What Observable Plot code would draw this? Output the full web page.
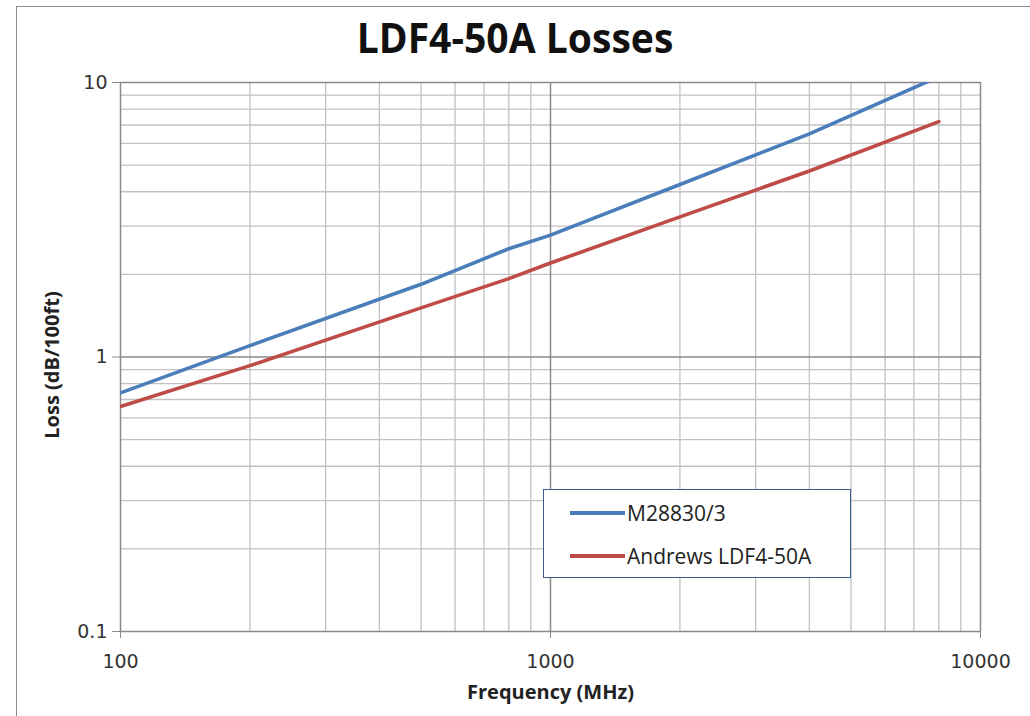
<!DOCTYPE html>
<html><head><meta charset="utf-8">
<script src="https://cdn.jsdelivr.net/npm/d3@7"></script>
<script src="https://cdn.jsdelivr.net/npm/@observablehq/plot@0.6"></script>
<style>
body{margin:0;background:#fff;}
#wrap{position:relative;width:1030px;height:716px;overflow:hidden;background:#fff}
#border{position:absolute;left:16px;top:6px;width:1040px;height:730px;border:1.5px solid #8c8c8c;box-sizing:border-box}
#chart{position:absolute;left:0;top:0}
#title{position:absolute;left:0;top:16px;width:1030px;text-align:center;font-family:"Open Sans",sans-serif;font-weight:bold;font-size:42px;line-height:42px;color:#111;transform:scaleX(0.93);transform-origin:515px 0}
#legend{position:absolute;left:543px;top:489px;width:308px;height:89px;border:1.5px solid #385d8a;background:#fff;box-sizing:border-box;font-family:"Open Sans",sans-serif;font-size:21px;color:#222}
.item{position:absolute;left:26px;height:28px;display:flex;align-items:center}
.sw{width:55px;height:4px;margin-right:2px}
</style>
</head><body>
<div id="wrap"><div id="border"></div><div id="chart"></div><div id="title"></div><div id="legend"></div></div>
<script>
const seriesNames = ["M28830/3", "Andrews LDF4-50A"];
const seriesColors = ["#4a7ebb", "#be4b48"];
const freqBlue = [100, 200, 500, 800, 1000, 2000, 4000, 8000];
const lossBlue = [0.74, 1.1, 1.84, 2.48, 2.78, 4.25, 6.5, 10.5];
const freqRed = [100, 200, 500, 800, 1000, 2000, 4000, 8000];
const lossRed = [0.66, 0.93, 1.51, 1.93, 2.2, 3.24, 4.76, 7.2];
const xTicks = [100, 1000, 10000];
const yTicks = [0.1, 1, 10];
const xMinor = [200,300,400,500,600,700,800,900,2000,3000,4000,5000,6000,7000,8000,9000];
const yMinor = [0.2,0.3,0.4,0.5,0.6,0.7,0.8,0.9,2,3,4,5,6,7,8,9];
const title = "LDF4-50A Losses";
const xLabel = "Frequency (MHz)";
const yLabel = "Loss (dB/100ft)";

const blue = freqBlue.map((f, i) => ({f, v: lossBlue[i], s: seriesNames[0]}));
const red = freqRed.map((f, i) => ({f, v: lossRed[i], s: seriesNames[1]}));

const chart = Plot.plot({
  width: 1030, height: 716,
  marginTop: 82, marginLeft: 120, marginRight: 50, marginBottom: 85,
  style: {fontFamily: "DejaVu Sans", fontSize: "19px", background: "transparent"},
  x: {type: "log", domain: [100, 10000]},
  y: {type: "log", domain: [0.1, 10]},
  color: {domain: seriesNames, range: seriesColors},
  marks: [
    Plot.ruleX(xMinor, {stroke: "#c2c2c2", strokeWidth: 1.3}),
    Plot.ruleY(yMinor, {stroke: "#c2c2c2", strokeWidth: 1.3}),
    Plot.ruleX(xTicks, {stroke: "#8a8a8a", strokeWidth: 1.5}),
    Plot.ruleY(yTicks, {stroke: "#8a8a8a", strokeWidth: 1.5}),
    Plot.axisY({ticks: yTicks, tickFormat: d => d === 0.1 ? "0.1" : String(d), tickSize: 8, tickPadding: 5, label: null, stroke: "#8a8a8a", fill: "#333", fontSize: 19}),
    Plot.axisX({ticks: xTicks, tickFormat: d => String(d), tickSize: 7, tickPadding: 16, label: null, stroke: "#8a8a8a", fill: "#333", fontSize: 19}),
    Plot.line(blue, {x: "f", y: "v", stroke: "s", strokeWidth: 3.6, clip: true}),
    Plot.line(red, {x: "f", y: "v", stroke: "s", strokeWidth: 3.6, clip: true}),
    Plot.text([xLabel], {frameAnchor: "bottom", dy: 67, text: d => d, fontFamily: "Open Sans", fontWeight: "bold", fontSize: 20, fill: "#222"}),
    Plot.text([yLabel], {frameAnchor: "left", textAnchor: "middle", dx: -68, dy: 8, rotate: -90, text: d => d, fontFamily: "Open Sans", fontWeight: "bold", fontSize: 20, fill: "#222"})
  ]
});
document.getElementById("chart").appendChild(chart);
document.getElementById("title").textContent = title;

const legend = document.getElementById("legend");
seriesNames.forEach((n, i) => {
  const it = document.createElement("div");
  it.className = "item";
  it.style.top = (9 + i * 43) + "px";
  it.innerHTML = `<span class="sw" style="background:${seriesColors[i]}"></span><span>${n}</span>`;
  legend.appendChild(it);
});
</script>
</body></html>
